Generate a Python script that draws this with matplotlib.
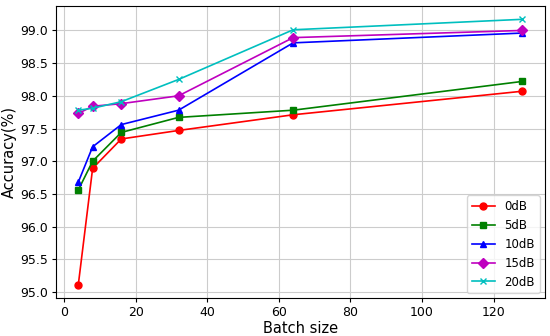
import matplotlib
matplotlib.use("Agg")
import matplotlib.pyplot as plt

# batch sizes and accuracy per SNR
batch_size = [4, 8, 16, 32, 64, 128]
acc_0db = [95.11, 96.89, 97.34, 97.47, 97.71, 98.07]
acc_5db = [96.56, 97.00, 97.44, 97.67, 97.78, 98.22]
acc_10db = [96.68, 97.22, 97.56, 97.78, 98.81, 98.96]
acc_15db = [97.73, 97.84, 97.88, 98.00, 98.89, 99.00]
acc_20db = [97.78, 97.81, 97.91, 98.25, 99.01, 99.17]
labels = ["0dB", "5dB", "10dB", "15dB", "20dB"]

fig, ax = plt.subplots(figsize=(5.5, 3.36), dpi=100)
ax.plot(batch_size, acc_0db, "ro-", ms=5, lw=1.2, label=labels[0])
ax.plot(batch_size, acc_5db, "gs-", ms=5, lw=1.2, label=labels[1])
ax.plot(batch_size, acc_10db, "b^-", ms=5, lw=1.2, label=labels[2])
ax.plot(batch_size, acc_15db, "mD-", ms=5, lw=1.2, label=labels[3])
ax.plot(batch_size, acc_20db, "cx-", ms=5, lw=1.2, label=labels[4])

ax.tick_params(labelsize=9, pad=2.5, length=3)
ax.set_xlabel("Batch size", fontsize=10.5, labelpad=2)
ax.set_ylabel("Accuracy(%)", fontsize=10.5, labelpad=3)
ax.grid(True, color="#cccccc", lw=0.8)
ax.legend(loc="lower right", fontsize=8.5, borderaxespad=0.4)

plt.subplots_adjust(left=0.102, right=0.99, top=0.982, bottom=0.113)
plt.savefig("out.png")
